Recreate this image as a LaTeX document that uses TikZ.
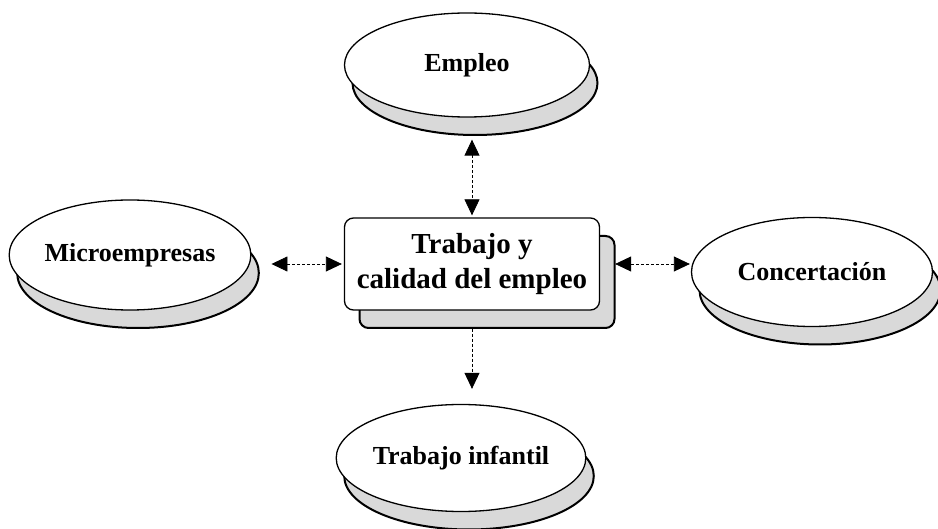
\documentclass[tikz,border=0pt]{standalone}
\usepackage{fontspec}
\setmainfont{Liberation Serif}
\usetikzlibrary{arrows.meta, shapes.geometric, shadows}

\begin{document}
\begin{tikzpicture}[
    x=1pt, y=-1pt,
    tema/.style={ellipse, draw=black, line width=1.3pt, fill=white,
        minimum width=240pt, minimum height=106pt, inner sep=0pt,
        font=\fontsize{26}{30}\selectfont\bfseries,
        drop shadow={shadow xshift=8pt, shadow yshift=-18pt, opacity=1,
            fill=gray!30, draw=black, line width=2pt}},
    centro/.style={rectangle, rounded corners=9pt, draw=black, line width=1.3pt, fill=white,
        minimum width=255pt, minimum height=92pt, align=center,
        font=\fontsize{29}{35}\selectfont\bfseries,
        drop shadow={shadow xshift=15pt, shadow yshift=-18pt, opacity=1,
            fill=gray!30, draw=black, line width=2pt}},
    enlace/.style={{Triangle[length=16pt, width=15pt]}-{Triangle[length=16pt, width=15pt]},
        densely dashed, line width=0.8pt}
]
\useasboundingbox (0,0) rectangle (938,529);

% Nodo central y temas alrededor
\node[centro] (trab) at (472,264) {Trabajo y\\calidad del empleo};
\node[tema, minimum width=245pt, minimum height=104pt] (empl) at (467,65) {Empleo};
\node[tema, minimum width=235pt, minimum height=110pt] (micro) at (130,255) {Microempresas};
\node[tema, minimum width=241pt, minimum height=109pt] (conc) at (812,272) {Concertación};
\node[tema, minimum width=237pt, minimum height=107pt] (infa) at (461,458) {Trabajo infantil};

% Conexiones
\draw[enlace, shorten <=22pt, shorten >=2pt] (empl.south -| trab.north) -- (trab.north);
\draw[enlace, shorten <=20pt, shorten >=2pt] (micro.east |- trab.west) -- (trab.west);
\draw[enlace, shorten <=15pt, shorten >=1pt] (trab.east) -- (conc.west |- trab.east);
\draw[enlace, -{Triangle[length=16pt, width=15pt]}, shorten <=18pt, shorten >=15pt]
    (trab.south) -- (infa.north -| trab.south);

\end{tikzpicture}
\end{document}
